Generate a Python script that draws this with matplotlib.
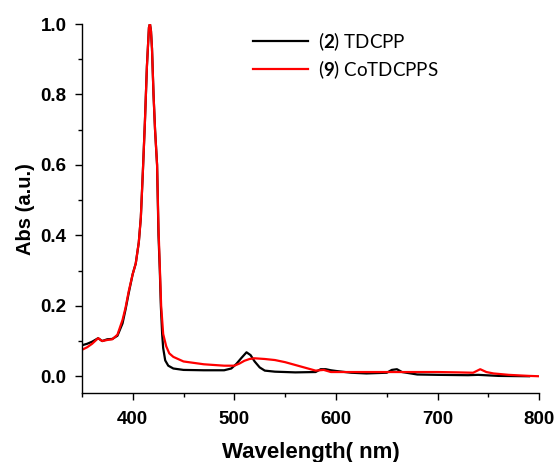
import matplotlib
matplotlib.use("Agg")
import matplotlib.pyplot as plt
from matplotlib.ticker import MultipleLocator

# (2) TDCPP
wl_black = [350, 355, 360, 366, 370, 375, 380, 385, 390, 393, 396, 400, 403, 406, 408,
            410, 412, 414, 416, 417, 418, 419, 420.5, 422, 424, 425.4, 426.7, 427.7,
            429, 430, 432, 435, 440, 450, 470, 490, 497, 502, 507, 512, 516, 520, 525,
            530, 540, 560, 580, 585, 590, 595, 600, 615, 630, 650, 655, 660, 665, 680,
            700, 730, 740, 760, 790]
abs_black = [0.088, 0.092, 0.098, 0.108, 0.100, 0.105, 0.106, 0.115, 0.150, 0.190, 0.235,
             0.290, 0.320, 0.380, 0.450, 0.580, 0.720, 0.880, 0.990, 1.000, 0.980, 0.930,
             0.800, 0.700, 0.600, 0.400, 0.300, 0.200, 0.120, 0.080, 0.045, 0.030, 0.022,
             0.018, 0.017, 0.017, 0.022, 0.035, 0.052, 0.068, 0.060, 0.042, 0.025, 0.016,
             0.013, 0.011, 0.012, 0.020, 0.020, 0.017, 0.015, 0.010, 0.008, 0.010, 0.018,
             0.020, 0.012, 0.005, 0.004, 0.003, 0.004, 0.001, 0.000]

# (9) CoTDCPPS
wl_red = [350, 355, 360, 366, 370, 375, 380, 385, 390, 393, 396, 400, 403, 406, 408,
          410, 412, 414, 416, 417, 418, 419, 420.5, 422, 424, 425.4, 426.7, 428, 430,
          433, 436, 440, 450, 460, 470, 480, 490, 500, 505, 510, 515, 520, 530, 540,
          550, 560, 570, 580, 588, 595, 600, 620, 640, 660, 680, 700, 720, 735, 742,
          748, 755, 770, 790, 800]
abs_red = [0.075, 0.082, 0.092, 0.108, 0.100, 0.103, 0.105, 0.118, 0.160, 0.195, 0.240,
           0.290, 0.320, 0.380, 0.450, 0.580, 0.720, 0.880, 0.990, 1.000, 0.980, 0.930,
           0.800, 0.700, 0.600, 0.420, 0.310, 0.200, 0.120, 0.085, 0.065, 0.055, 0.042,
           0.038, 0.034, 0.032, 0.030, 0.030, 0.036, 0.044, 0.049, 0.051, 0.049, 0.046,
           0.040, 0.032, 0.024, 0.016, 0.018, 0.012, 0.012, 0.012, 0.012, 0.012, 0.012,
           0.012, 0.011, 0.010, 0.020, 0.012, 0.008, 0.004, 0.001, 0.000]

labels = [r"($\mathbf{2}$) TDCPP", r"($\mathbf{9}$) CoTDCPPS"]
xticks = [400, 500, 600, 700, 800]
yticks = [0.0, 0.2, 0.4, 0.6, 0.8, 1.0]

plt.rcParams["mathtext.fontset"] = "custom"
plt.rcParams["mathtext.bf"] = "Lato:bold"
plt.rcParams["mathtext.rm"] = "Lato"

fig = plt.figure(figsize=(5.57, 4.62), dpi=100)
ax = fig.add_axes([0.147, 0.149, 0.821, 0.799])

ax.plot(wl_black, abs_black, color="black", lw=1.6, label=labels[0])
ax.plot(wl_red, abs_red, color="red", lw=1.6, label=labels[1])

ax.set_xlim(350, 800)
ax.set_ylim(-0.048, 1.0)
ax.spines["top"].set_visible(False)
ax.spines["right"].set_visible(False)
for s in ("left", "bottom"):
    ax.spines[s].set_linewidth(1.0)

ax.xaxis.set_minor_locator(MultipleLocator(50))
ax.yaxis.set_minor_locator(MultipleLocator(0.1))
ax.tick_params(which="major", direction="out", length=5, width=1)
ax.tick_params(which="minor", direction="out", length=3, width=1)
ax.tick_params(axis="x", which="major", pad=8)
ax.tick_params(axis="y", which="major", pad=6)
ax.set_yticks(yticks)
ax.set_yticklabels([f"{v:.1f}" for v in yticks], fontweight="bold",
                   family="Liberation Sans", fontsize=13.5)
ax.set_xticks(xticks)
ax.set_xticklabels([str(v) for v in xticks], fontweight="bold",
                   family="Liberation Sans", fontsize=13.5)

ax.set_xlabel("Wavelength( nm)", fontsize=16, fontweight="bold", family="Liberation Sans", labelpad=10)
ax.set_ylabel("Abs (a.u.)", fontsize=14.5, fontweight="bold", family="Liberation Sans", labelpad=4)

leg = ax.legend(loc="upper left", bbox_to_anchor=(0.338, 1.03), frameon=False,
                prop={"family": "Lato", "size": 13.5}, handlelength=2.9,
                handletextpad=0.55, labelspacing=0.3)

fig.savefig("out.png", dpi=100)
